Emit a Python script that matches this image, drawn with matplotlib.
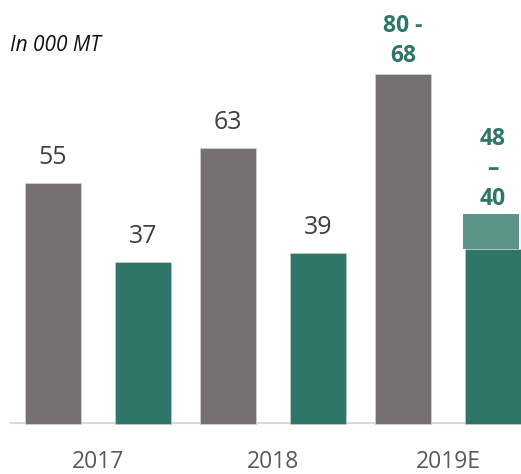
import numpy as np
import matplotlib
matplotlib.use("Agg")
import matplotlib.pyplot as plt

years = ["2017", "2018", "2019E"]
gray_vals = [55, 63, 80]
green_vals = [37, 39, 40]
green_range_top = [None, None, 48]
gray_labels = ["55", "63", "80 -\n68"]
green_labels = ["37", "39", "48\n–\n40"]

GRAY = "#767170"
GREEN = "#2e7667"
GREEN_LIGHT = "#5a9487"
TXT = "#404040"

plt.rcParams["font.family"] = ["Open Sans", "DejaVu Sans"]

fig = plt.figure(figsize=(5.21, 4.74), dpi=100)
ax = fig.add_axes([0, 0, 1, 1])
x = np.arange(len(years))
w = 0.32
off = 0.257

ax.bar(x - off, gray_vals, w, color=GRAY, edgecolor="#d0d0d0", linewidth=0.6, zorder=2)
ax.bar(x + off, green_vals, w, color=GREEN, edgecolor="#d0d0d0", linewidth=0.4, zorder=2)
for i, top in enumerate(green_range_top):
    if top is not None:
        ax.bar(x[i] + off - 0.01, top - green_vals[i], w, bottom=green_vals[i],
               color=GREEN_LIGHT, linewidth=0, zorder=3)

# value labels
for i in range(len(years)):
    if i < 2:
        ax.annotate(gray_labels[i], (x[i] - off, gray_vals[i]), xytext=(0, 9.5),
                    textcoords="offset points", ha="center", va="bottom",
                    fontsize=18, color=TXT)
        ax.annotate(green_labels[i], (x[i] + off, green_vals[i]), xytext=(0, 9.5),
                    textcoords="offset points", ha="center", va="bottom",
                    fontsize=18, color=TXT)
    else:
        ax.annotate(gray_labels[i], (x[i] - off, gray_vals[i]), xytext=(0, 4),
                    textcoords="offset points", ha="center", va="bottom",
                    fontsize=16.5, color=GREEN, fontweight="bold", linespacing=1.35)
        ax.annotate(green_labels[i], (x[i] + off, green_range_top[i]), xytext=(0, 2),
                    textcoords="offset points", ha="center", va="bottom",
                    fontsize=16.5, color=GREEN, fontweight="bold", linespacing=1.35)

for i, yr in enumerate(years):
    ax.text(x[i], -8.6, yr, ha="center", va="center", fontsize=16.5, color="#595959")

ax.axhline(0.3, xmin=11 / 521, xmax=1, color="#d9d9d9", linewidth=1.5, zorder=1)

ax.text(10 / 521, 1 - 45 / 474, "In 000 MT", transform=ax.transAxes, fontsize=15,
        style="italic", color="#111111", va="center")

ax.set_xlim(-0.56, 2.417)
ax.set_ylim(-11.4, 96.9)
ax.axis("off")

fig.savefig("out.png", dpi=100)
